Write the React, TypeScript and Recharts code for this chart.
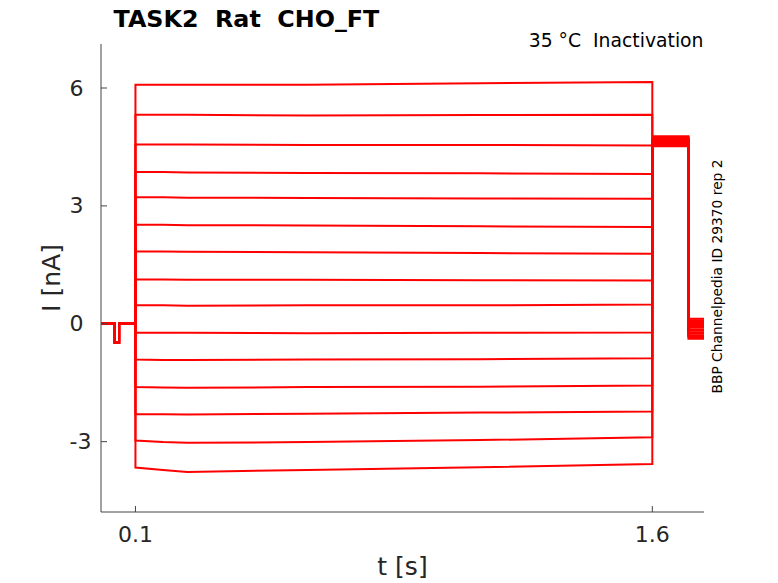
import React from "react";
import { LineChart, Line, XAxis, YAxis } from "recharts";

const W = 778;
const H = 583;

// time points (s)
const tStart = 0;
const tDipOn = 0.04;
const tDipOff = 0.0525;
const tStepOn = 0.1;
const tSamples = [0.1, 0.18, 0.25, 0.6, 1.1, 1.6];
const tStepOff = 1.6;
const tHoldOff = 1.705;
const tEnd = 1.75;

const dipLevel = -0.48;

// current during the test step (nA) at each tSamples time, one per trace
const stepAt010 = [6.08, 5.32, 4.56, 3.86, 3.22, 2.52, 1.84, 1.13, 0.47, -0.23, -0.91, -1.61, -2.3, -2.97, -3.66];
const stepAt018 = [6.08, 5.32, 4.56, 3.86, 3.22, 2.52, 1.84, 1.13, 0.47, -0.23, -0.92, -1.62, -2.3, -3.01, -3.72];
const stepAt025 = [6.08, 5.32, 4.56, 3.85, 3.21, 2.51, 1.83, 1.12, 0.46, -0.23, -0.92, -1.63, -2.31, -3.03, -3.77];
const stepAt060 = [6.08, 5.3, 4.55, 3.84, 3.2, 2.5, 1.82, 1.12, 0.47, -0.24, -0.91, -1.61, -2.29, -3.01, -3.72];
const stepAt110 = [6.12, 5.31, 4.55, 3.83, 3.19, 2.48, 1.8, 1.11, 0.47, -0.23, -0.9, -1.6, -2.26, -2.96, -3.65];
const stepAt160 = [6.15, 5.32, 4.54, 3.81, 3.18, 2.46, 1.78, 1.1, 0.49, -0.22, -0.88, -1.57, -2.23, -2.89, -3.57];

// hold after step and final tail (nA)
const holdLevels = [4.77, 4.75, 4.72, 4.71, 4.69, 4.67, 4.66, 4.64, 4.63, 4.61, 4.6, 4.58, 4.56, 4.55, 4.52];
const tailLevels = [0.13, 0.09, 0.05, 0.02, -0.03, -0.07, -0.1, -0.15, -0.18, -0.22, -0.25, -0.29, -0.31, -0.35, -0.38];

const xTicks = [0.1, 1.6];
const yTicks = [-3, 0, 3, 6];
const xDomain = [0, 1.75];
const yDomain = [-4.79, 7.12];

const title = "TASK2  Rat  CHO_FT";
const subtitle = "35 °C  Inactivation";
const sideNote = "BBP Channelpedia ID 29370 rep 2";

const stepTables = [stepAt010, stepAt018, stepAt025, stepAt060, stepAt110, stepAt160];

const traces = stepAt010.map((_, i) => {
  const pts: { t: number; v: number }[] = [
    { t: tStart, v: 0 },
    { t: tDipOn, v: 0 },
    { t: tDipOn, v: dipLevel },
    { t: tDipOff, v: dipLevel },
    { t: tDipOff, v: 0 },
    { t: tStepOn, v: 0 },
  ];
  tSamples.forEach((t, k) => pts.push({ t, v: stepTables[k][i] }));
  pts.push({ t: tStepOff, v: holdLevels[i] });
  pts.push({ t: tHoldOff, v: holdLevels[i] });
  pts.push({ t: tHoldOff, v: tailLevels[i] });
  pts.push({ t: tEnd, v: tailLevels[i] });
  return pts;
});

const FONT = "'DejaVu Sans', sans-serif";
const TXT = "#262626";

const XTick = (props: any) => {
  const { x, y, payload } = props;
  return (
    <text x={x} y={y + 29.5} textAnchor="middle" fontFamily={FONT} fontSize={22} fill={TXT}>
      {payload.value}
    </text>
  );
};

const YTick = (props: any) => {
  const { x, y, payload } = props;
  return (
    <text x={x - 31.5} y={y} textAnchor="start" dominantBaseline="central" fontFamily={FONT} fontSize={22} fill={TXT}>
      {payload.value}
    </text>
  );
};

export default function App() {
  return (
    <div style={{ position: "absolute", left: 0, top: 0, width: W, height: H, background: "#fff" }}>
      <LineChart width={W} height={H} margin={{ top: 44, right: 74, left: 41, bottom: 31 }}>
        <XAxis
          type="number"
          dataKey="t"
          domain={xDomain}
          ticks={xTicks}
          allowDataOverflow
          height={40}
          tickSize={-6}
          tickMargin={6}
          tick={<XTick />}
          axisLine={{ stroke: "#444", strokeWidth: 1 }}
          tickLine={{ stroke: "#444", strokeWidth: 1 }}
        />
        <YAxis
          type="number"
          dataKey="v"
          domain={yDomain}
          ticks={yTicks}
          allowDataOverflow
          width={60}
          tickSize={-6}
          tickMargin={6}
          tick={<YTick />}
          axisLine={{ stroke: "#444", strokeWidth: 1 }}
          tickLine={{ stroke: "#444", strokeWidth: 1 }}
        />
        {traces.map((d, i) => (
          <Line
            key={i}
            data={d}
            dataKey="v"
            type="linear"
            stroke="#ff0000"
            strokeWidth={2}
            dot={false}
            activeDot={false}
            isAnimationActive={false}
          />
        ))}
      </LineChart>
      <svg width={W} height={H} style={{ position: "absolute", left: 0, top: 0, pointerEvents: "none" }}>
        <text x={113.5} y={27} fontFamily={FONT} fontSize={23.8} fontWeight="bold" fill="#000" style={{ whiteSpace: "pre" }}>
          {title}
        </text>
        <text x={703.5} y={47} textAnchor="end" fontFamily={FONT} fontSize={18.8} fill="#000" style={{ whiteSpace: "pre" }}>
          {subtitle}
        </text>
        <text
          transform="translate(721.5,276.5) rotate(-90)"
          textAnchor="middle"
          fontFamily={FONT}
          fontSize={13.8}
          fill="#000"
        >
          {sideNote}
        </text>
        <text
          transform="translate(59.5,278) rotate(-90)"
          textAnchor="middle"
          fontFamily={FONT}
          fontSize={25}
          fill={TXT}
        >
          I [nA]
        </text>
        <text x={402.5} y={575} textAnchor="middle" fontFamily={FONT} fontSize={25} fill={TXT}>
          t [s]
        </text>
      </svg>
    </div>
  );
}
